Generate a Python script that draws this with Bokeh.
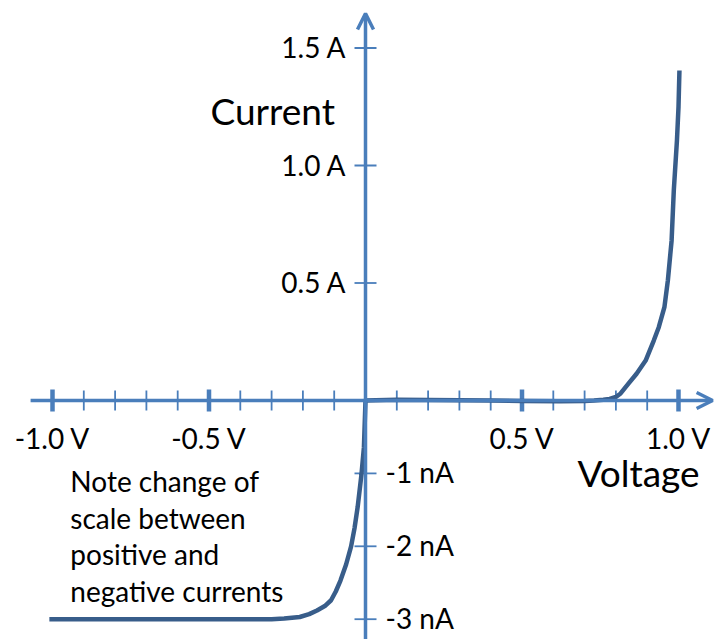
import numpy as np
from bokeh.plotting import figure
from bokeh.models import Range1d, Arrow, OpenHead
from bokeh.core.properties import value
from bokeh.embed import file_html
from bokeh.resources import INLINE

# ---------------- data ----------------
# reverse-bias branch: voltage (V) and current (nA)
neg_v = [-1.01, -0.7, -0.45, -0.36, -0.30, -0.26, -0.235, -0.21, -0.18, -0.155, -0.13, -0.11,
         -0.095, -0.08, -0.062, -0.046, -0.035, -0.025, -0.013, -0.005, 0.0]
neg_i_nA = [-3.0, -3.0, -3.0, -3.0, -3.0, -2.99, -2.98, -2.97, -2.93, -2.88, -2.82, -2.74,
            -2.62, -2.47, -2.25, -2.0, -1.75, -1.46, -1.02, -0.64, 0.0]

# forward-bias branch: voltage (V) and current (A)
pos_v = [0.0, 0.1, 0.2, 0.3, 0.4, 0.5, 0.62, 0.7, 0.73, 0.76, 0.78, 0.8, 0.815, 0.84, 0.866,
         0.895, 0.921, 0.937, 0.955, 0.966, 0.978, 0.985, 0.995, 1.0, 1.003]
pos_i_A = [0.004, 0.003, 0.002, 0.001, 0.0, -0.002, -0.003, -0.002, 0.0, 0.003, 0.007, 0.015, 0.03, 0.072, 0.114,
           0.17, 0.255, 0.312, 0.397, 0.511, 0.681, 0.894, 1.106, 1.248, 1.404]

x_major = [-1.0, -0.5, 0.5, 1.0]
x_major_labels = ["-1.0 V", "-0.5 V", "0.5 V", "1.0 V"]
x_minor = [-0.9, -0.8, -0.7, -0.6, -0.4, -0.3, -0.2, -0.1, 0.1, 0.2, 0.3, 0.4, 0.6, 0.7, 0.8, 0.9]

y_pos_ticks_A = [0.5, 1.0, 1.5]
y_pos_labels = ["0.5 A", "1.0 A", "1.5 A"]
y_neg_ticks_nA = [-1, -2, -3]
y_neg_labels = ["-1 nA", "-2 nA", "-3 nA"]

note_lines = ["Note change of", "scale between", "positive and", "negative currents"]

# ---------------- layout constants ----------------
NEG_SCALE = 72.9 / 235.0   # display units (A) per nA on the negative half-axis
AXIS = "#4a7ebb"
CURVE = "#385d8a"
FONT = value("Lato")
BASE_FIX = -11             # baseline correction in screen px

neg_y = [i * NEG_SCALE for i in neg_i_nA]
y_neg_ticks = [i * NEG_SCALE for i in y_neg_ticks_nA]

p = figure(width=716, height=639,
           x_range=Range1d(-365 / 313, 351 / 313),
           y_range=Range1d(-239 / 235, 400 / 235),
           x_axis_type=None, y_axis_type=None,
           toolbar_location=None, output_backend="svg",
           min_border=0, outline_line_color=None)
p.background_fill_color = "white"
p.border_fill_color = "white"

# axes with arrows
p.add_layout(Arrow(end=OpenHead(size=16, line_width=3.5, line_color=AXIS),
                   x_start=-1.07, y_start=0, x_end=1.109, y_end=0,
                   line_width=3.5, line_color=AXIS))
p.add_layout(Arrow(end=OpenHead(size=16, line_width=3.5, line_color=AXIS),
                   x_start=0, y_start=-1.1, x_end=0, y_end=1.647,
                   line_width=3.5, line_color=AXIS))

# ticks
p.scatter(x=x_minor, y=[0] * len(x_minor), marker="dash", size=20, angle=np.pi / 2,
          line_color=AXIS, line_width=1.8)
p.scatter(x=x_major, y=[0] * len(x_major), marker="dash", size=22, angle=np.pi / 2,
          line_color=AXIS, line_width=4.5)
p.scatter(x=[0] * 3, y=y_pos_ticks_A, marker="dash", size=22,
          line_color=AXIS, line_width=1.8)
p.scatter(x=[0] * 3, y=y_neg_ticks, marker="dash", size=22,
          line_color=AXIS, line_width=1.8)

# curve
p.line(x=neg_v + pos_v[1:], y=neg_y + pos_i_A[1:], line_color=CURVE, line_width=4.5,
       line_join="round", line_cap="butt")

# tick labels
p.text(x=x_major, y=[0] * 4, text=x_major_labels, text_font=FONT, text_font_size="28px",
       text_align="center", text_baseline="alphabetic", y_offset=48 + BASE_FIX, text_color="black")
p.text(x=[0] * 3, y=y_pos_ticks_A, text=y_pos_labels, text_font=FONT, text_font_size="28px",
       text_align="right", text_baseline="middle", x_offset=-19, y_offset=-1, text_color="black")
p.text(x=[0] * 3, y=y_neg_ticks, text=y_neg_labels, text_font=FONT, text_font_size="28px",
       text_align="left", text_baseline="middle", x_offset=20, y_offset=-1, text_color="black")

# axis titles
p.text(x=[-0.495], y=[1.179], text=["Current"], text_font=FONT, text_font_size="37px",
       text_align="left", text_baseline="alphabetic", y_offset=BASE_FIX - 2, text_color="black")
p.text(x=[0.677], y=[-0.353], text=["Voltage"], text_font=FONT, text_font_size="37px",
       text_align="left", text_baseline="alphabetic", y_offset=BASE_FIX, text_color="black")

# note
note_y = [-0.390, -0.546, -0.702, -0.858]
p.text(x=[-0.943] * 4, y=note_y, text=note_lines, text_font=FONT, text_font_size="28px",
       text_align="left", text_baseline="alphabetic", y_offset=BASE_FIX, text_color="black")

open("out.html", "w").write(file_html(p, INLINE))
